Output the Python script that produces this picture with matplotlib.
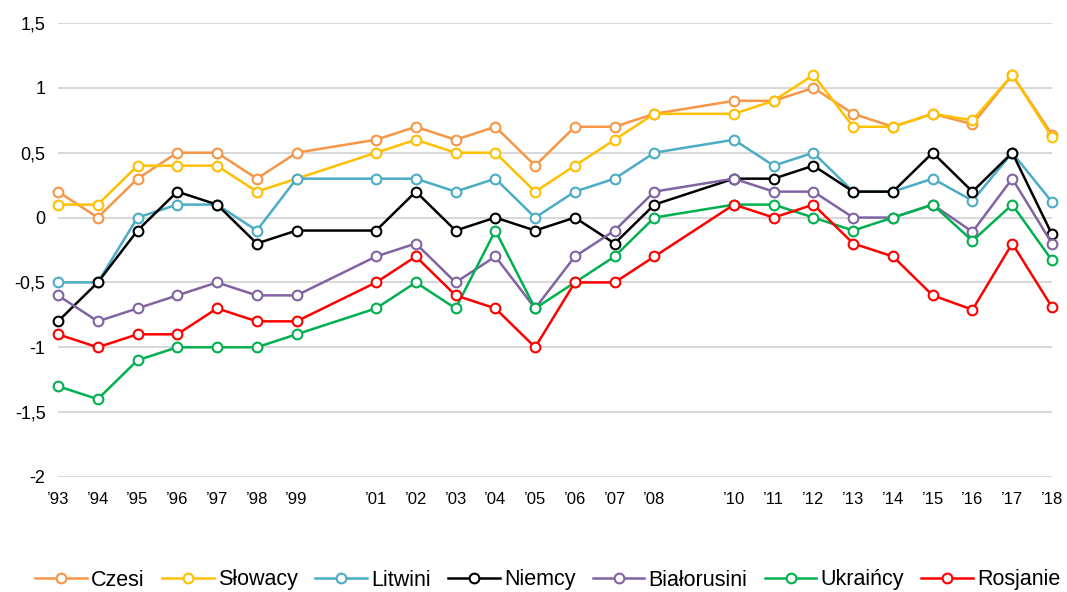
import matplotlib
matplotlib.use("Agg")
import matplotlib.pyplot as plt

years = [1993, 1994, 1995, 1996, 1997, 1998, 1999, 2001, 2002, 2003, 2004, 2005,
         2006, 2007, 2008, 2010, 2011, 2012, 2013, 2014, 2015, 2016, 2017, 2018]
tick_labels = ["’93", "’94", "’95", "’96", "’97", "’98", "’99", "’01", "’02", "’03",
               "’04", "’05", "’06", "’07", "’08", "’10", "’11", "’12", "’13", "’14",
               "’15", "’16", "’17", "’18"]

czesi = [0.2, 0.0, 0.3, 0.5, 0.5, 0.3, 0.5, 0.6, 0.7, 0.6, 0.7, 0.4,
         0.7, 0.7, 0.8, 0.9, 0.9, 1.0, 0.8, 0.7, 0.8, 0.72, 1.1, 0.64]
slowacy = [0.1, 0.1, 0.4, 0.4, 0.4, 0.2, 0.3, 0.5, 0.6, 0.5, 0.5, 0.2,
           0.4, 0.6, 0.8, 0.8, 0.9, 1.1, 0.7, 0.7, 0.8, 0.75, 1.1, 0.62]
litwini = [-0.5, -0.5, 0.0, 0.1, 0.1, -0.1, 0.3, 0.3, 0.3, 0.2, 0.3, 0.0,
           0.2, 0.3, 0.5, 0.6, 0.4, 0.5, 0.2, 0.2, 0.3, 0.13, 0.5, 0.12]
niemcy = [-0.8, -0.5, -0.1, 0.2, 0.1, -0.2, -0.1, -0.1, 0.2, -0.1, 0.0, -0.1,
          0.0, -0.2, 0.1, 0.3, 0.3, 0.4, 0.2, 0.2, 0.5, 0.2, 0.5, -0.13]
bialorusini = [-0.6, -0.8, -0.7, -0.6, -0.5, -0.6, -0.6, -0.3, -0.2, -0.5, -0.3, -0.7,
               -0.3, -0.1, 0.2, 0.3, 0.2, 0.2, 0.0, 0.0, 0.1, -0.11, 0.3, -0.2]
ukraincy = [-1.3, -1.4, -1.1, -1.0, -1.0, -1.0, -0.9, -0.7, -0.5, -0.7, -0.1, -0.7,
            -0.5, -0.3, 0.0, 0.1, 0.1, 0.0, -0.1, 0.0, 0.1, -0.18, 0.1, -0.33]
rosjanie = [-0.9, -1.0, -0.9, -0.9, -0.7, -0.8, -0.8, -0.5, -0.3, -0.6, -0.7, -1.0,
            -0.5, -0.5, -0.3, 0.1, 0.0, 0.1, -0.2, -0.3, -0.6, -0.71, -0.2, -0.69]

series = [
    ("Czesi", czesi, "#F79646"),
    ("Słowacy", slowacy, "#FFC000"),
    ("Litwini", litwini, "#4BACC6"),
    ("Niemcy", niemcy, "#000000"),
    ("Białorusini", bialorusini, "#8064A2"),
    ("Ukraińcy", ukraincy, "#00B050"),
    ("Rosjanie", rosjanie, "#FF0000"),
]

yticks = [-2, -1.5, -1, -0.5, 0, 0.5, 1, 1.5]
ytick_labels = ["-2", "-1,5", "-1", "-0,5", "0", "0,5", "1", "1,5"]

plt.rcParams['font.family'] = ['Liberation Sans', 'DejaVu Sans']

fig = plt.figure(figsize=(10.67, 5.92), dpi=100)
ax = fig.add_axes([58 / 1067, 1 - 477 / 592, (1052 - 58) / 1067, (477 - 23) / 592])

for name, vals, col in series:
    ax.plot(years, vals, color=col, linewidth=1.8, marker='o', markersize=7,
            markerfacecolor='white', markeredgecolor=col, markeredgewidth=1.5,
            label=name, clip_on=False, zorder=3)

ax.set_xlim(1993, 2018)
ax.set_ylim(-2, 1.5)
ax.set_yticks(yticks)
ax.set_yticklabels(ytick_labels, fontsize=13)
ax.set_xticks(years)
ax.set_xticklabels(tick_labels, fontsize=12)
ax.grid(axis='y', color='#D9D9D9', linewidth=1.5, zorder=0)
ax.set_axisbelow(True)
for s in ax.spines.values():
    s.set_visible(False)
ax.tick_params(axis='both', length=0)
ax.tick_params(axis='y', pad=9)
ax.tick_params(axis='x', pad=11)

fig.legend(loc='center', bbox_to_anchor=(548 / 1067, 1 - 580 / 592), ncol=7, frameon=False,
           fontsize=15.5, handlelength=2.4, columnspacing=0.8, handletextpad=0.2,
           borderpad=0, borderaxespad=0)

fig.savefig("out.png", dpi=100)
